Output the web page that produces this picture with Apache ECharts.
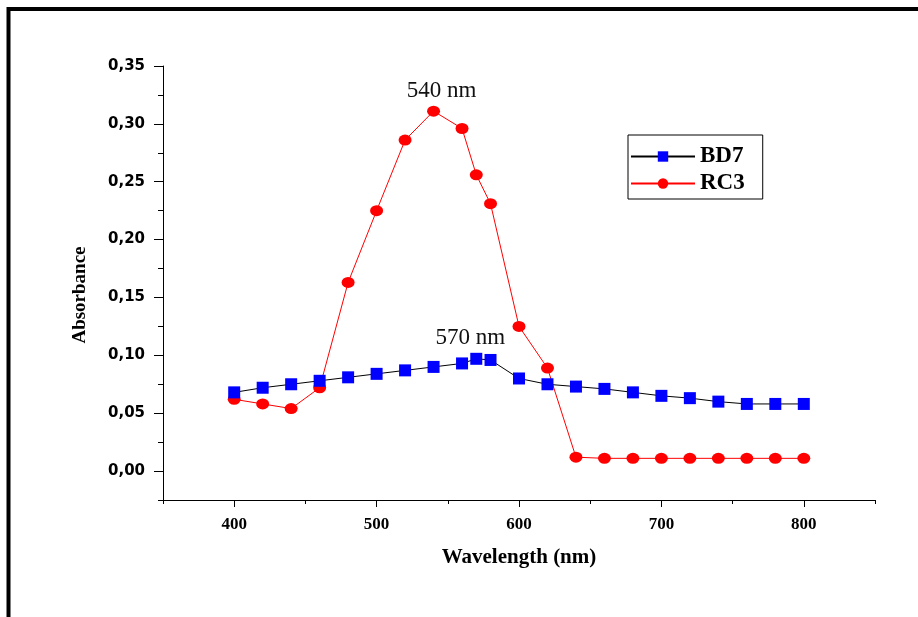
<!DOCTYPE html>
<html>
<head>
<meta charset="utf-8">
<script src="https://cdn.jsdelivr.net/npm/echarts@6/dist/echarts.min.js"></script>
<style>html,body{margin:0;padding:0;background:#fff;}#c{width:918px;height:617px;}</style>
</head>
<body>
<div id="c"></div>
<script>
const bd7Wavelengths = [400,420,440,460,480,500,520,540,560,570,580,600,620,640,660,680,700,720,740,760,780,800];
const bd7Values = [0.068,0.072,0.075,0.078,0.081,0.084,0.087,0.090,0.093,0.097,0.096,0.080,0.075,0.073,0.071,0.068,0.065,0.063,0.060,0.058,0.058,0.058];
const rc3Wavelengths = [400,420,440,460,480,500,520,540,560,570,580,600,620,640,660,680,700,720,740,760,780,800];
const rc3Values = [0.062,0.058,0.054,0.072,0.163,0.225,0.286,0.311,0.296,0.256,0.231,0.125,0.089,0.012,0.011,0.011,0.011,0.011,0.011,0.011,0.011,0.011];
const seriesNames = ['BD7','RC3'];
const xMajorTicks = [400,500,600,700,800];
const yMajorTicks = [0,0.05,0.10,0.15,0.20,0.25,0.30,0.35];
const peakLabels = {RC3: {x: 540, text: '540 nm'}, BD7: {x: 570, text: '570 nm'}};

function build(ws, vs, name, offset) {
  return ws.map((w, i) => {
    if (peakLabels[name].x === w) {
      return {value: [w, vs[i]], label: {show: true, position: 'top', distance: 3, offset: offset,
        formatter: peakLabels[name].text, fontFamily: 'Liberation Serif', fontSize: 23, color: '#111'}};
    }
    return [w, vs[i]];
  });
}

const chart = echarts.init(document.getElementById('c'));
chart.setOption({
  animation: false,
  backgroundColor: '#fff',
  graphic: [{type: 'rect', shape: {x: 8.5, y: 9, width: 1200, height: 1200}, style: {fill: 'none', stroke: '#000', lineWidth: 4}, silent: true}],
  grid: {left: 163, right: 43, top: 66, bottom: 117},
  legend: {
    orient: 'vertical', left: 628, top: 135,
    data: seriesNames,
    itemWidth: 64, itemHeight: 13, itemGap: 4,
    padding: [10, 18, 4, 2],
    borderColor: '#000', borderWidth: 1,
    textStyle: {fontFamily: 'Liberation Serif', fontWeight: 'bold', fontSize: 23, color: '#000'}
  },
  xAxis: [{
    type: 'value', min: 350, max: 850, interval: 50,
    name: 'Wavelength (nm)', nameLocation: 'middle', nameGap: 47,
    nameTextStyle: {fontFamily: 'Liberation Serif', fontWeight: 'bold', fontSize: 21, color: '#000'},
    axisLine: {onZero: false, lineStyle: {color: '#000', width: 1}},
    axisTick: {inside: false, length: 7, customValues: xMajorTicks, lineStyle: {color: '#000'}},
    axisLabel: {margin: 16, customValues: xMajorTicks, fontFamily: 'Liberation Serif', fontWeight: 'bold', fontSize: 17, color: '#000'},
    splitLine: {show: false}
  }, {
    type: 'value', min: 350, max: 850, interval: 50, position: 'bottom', offset: 0,
    axisLine: {show: false, onZero: false},
    axisTick: {show: true, inside: false, length: 4, lineStyle: {color: '#000'}},
    axisLabel: {show: false}, splitLine: {show: false}
  }],
  yAxis: [{
    type: 'value', min: -0.025, max: 0.35, interval: 0.025,
    name: 'Absorbance', nameLocation: 'middle', nameGap: 73, nameRotate: 90,
    nameTextStyle: {fontFamily: 'Liberation Serif', fontWeight: 'bold', fontSize: 19, color: '#000', padding: [0, 24, 0, 0]},
    axisLine: {show: true, onZero: false, lineStyle: {color: '#000', width: 1}},
    axisTick: {show: true, inside: false, length: 9, customValues: yMajorTicks, lineStyle: {color: '#000'}},
    axisLabel: {margin: 18, customValues: yMajorTicks,
      formatter: v => v.toFixed(2).replace('.', ','),
      fontFamily: 'DejaVu Sans', fontWeight: 'bold', fontSize: 15, color: '#000'},
    splitLine: {show: false}
  }, {
    type: 'value', min: -0.025, max: 0.35, interval: 0.025, position: 'left', offset: 0,
    axisLine: {show: false, onZero: false},
    axisTick: {show: true, inside: false, length: 5, lineStyle: {color: '#000'}},
    axisLabel: {show: false}, splitLine: {show: false}
  }],
  series: [
    {name: 'BD7', type: 'line', data: build(bd7Wavelengths, bd7Values, 'BD7', [-6, 0]),
     symbol: 'rect', symbolSize: 12, itemStyle: {color: '#0000ff'},
     lineStyle: {color: '#000', width: 1}, z: 3},
    {name: 'RC3', type: 'line', data: build(rc3Wavelengths, rc3Values, 'RC3', [8, 0]),
     symbol: 'circle', symbolSize: [13, 11], itemStyle: {color: '#ff0000'},
     lineStyle: {color: '#ff0000', width: 1}, z: 2}
  ]
});
</script>
</body>
</html>
